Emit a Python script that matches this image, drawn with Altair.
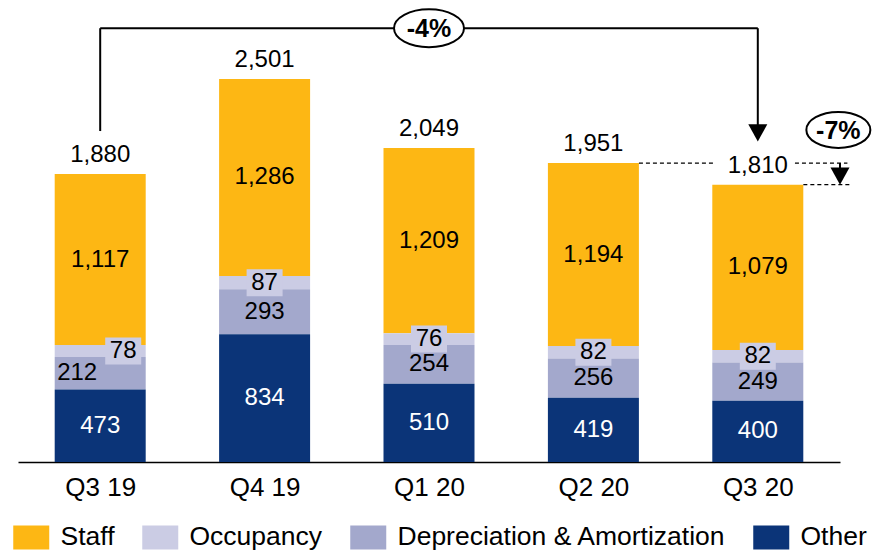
import json
import altair as alt
import pandas as pd

# ---------------- data ----------------
quarters = ["Q3 19", "Q4 19", "Q1 20", "Q2 20", "Q3 20"]
staff = [1117, 1286, 1209, 1194, 1079]
occupancy = [78, 87, 76, 82, 82]
dep_amort = [212, 293, 254, 256, 249]
other = [473, 834, 510, 419, 400]
totals = [1880, 2501, 2049, 1951, 1810]

series_names = ["Staff", "Occupancy", "Depreciation & Amortization", "Other"]
series_colors = ["#FDB714", "#CBCCE4", "#A3A8CC", "#0B3478"]
stack_rank = {"Other": 0, "Depreciation & Amortization": 1, "Occupancy": 2, "Staff": 3}

# annotation geometry in data units (x = quarter index, y = value)
bracket_x = [0, 0, 4]
bracket_x2 = [0, 4, 4]
bracket_y = [2160, 2831, 2831]
bracket_y2 = [2831, 2831, 2150]
arrow_x = [4, 4.5]
arrow_y = [2092, 1810]
dash_x = [3.277, 4.226, 4.277]
dash_x2 = [3.745, 4.545, 4.56]
dash_y = [1951, 1951, 1810]
small_shaft_x = [4.5]
small_shaft_y = [1951]
small_shaft_y2 = [1860]
badge_x = [2, 4.49]
badge_y = [2831, 2167]
badge_text = ["-4%", "-7%"]

FONT = "Liberation Sans"

rows = []
for i, q in enumerate(quarters):
    for name, vals in (("Staff", staff), ("Occupancy", occupancy),
                       ("Depreciation & Amortization", dep_amort), ("Other", other)):
        rows.append(dict(idx=i, quarter=q, series=name, value=vals[i], rank=stack_rank[name]))
df = pd.DataFrame(rows)
tot_df = pd.DataFrame(dict(idx=list(range(len(quarters))), total=totals))

x_scale = alt.Scale(domain=[-0.5, 4.5], nice=False, zero=False, padding=0)
y_scale = alt.Scale(domain=[0, 2963], nice=False, zero=True, padding=0)

x_axis = alt.Axis(
    values=list(range(len(quarters))),
    labelExpr=f"{json.dumps(quarters)}[datum.value]",
    ticks=False, grid=False, domainColor="black", domainWidth=1.5,
    labelFontSize=26, labelColor="black", labelFont=FONT,
    labelPadding=12, title=None, labelFlush=False)


def X(field):
    return alt.X(field, scale=x_scale, axis=x_axis, title=None)


def Y(field):
    return alt.Y(field, scale=y_scale, axis=None)


legend_rect_path = "M-1.5,-1L1.5,-1L1.5,1L-1.5,1Z"
box_path = "M-1,-0.75L1,-0.75L1,0.75L-1,0.75Z"
head_path = "M-1,-1.8L1,-1.8L0,0Z"


def ellipse_path(r):
    k = 0.5523
    kr = k * r
    return (f"M-1,0C-1,{-kr:.4f},{-k},{-r:.4f},0,{-r:.4f}"
            f"C{k},{-r:.4f},1,{-kr:.4f},1,0"
            f"C1,{kr:.4f},{k},{r:.4f},0,{r:.4f}"
            f"C{-k},{r:.4f},-1,{kr:.4f},-1,0Z")


base = alt.Chart(df).transform_stack(
    stack="value", groupby=["idx"], as_=["y0", "y1"],
    sort=[alt.SortField("rank", order="ascending")]
).transform_calculate(mid="(datum.y0 + datum.y1) / 2")

bars = base.mark_bar(width=91).encode(
    x=X("idx:Q"),
    y=Y("y0:Q"),
    y2="y1:Q",
    color=alt.Color("series:N", scale=alt.Scale(domain=series_names, range=series_colors),
                    legend=alt.Legend(title=None, orient="none", legendX=0, legendY=516,
                                      direction="horizontal", columns=4,
                                      symbolType=legend_rect_path, symbolSize=576,
                                      symbolStrokeWidth=0, labelFontSize=26.5, labelFont=FONT,
                                      labelColor="black", labelOffset=16, columnPadding=27,
                                      padding=0, labelLimit=500)),
)

staff_lbl = base.transform_filter("datum.series == 'Staff'").mark_text(
    fontSize=24, font=FONT, color="black", baseline="middle"
).encode(x=X("idx:Q"), y=Y("mid:Q"), text=alt.Text("value:Q", format=",d"))

other_lbl = base.transform_filter("datum.series == 'Other'").mark_text(
    fontSize=24, font=FONT, color="white", baseline="middle"
).encode(x=X("idx:Q"), y=Y("mid:Q"), text=alt.Text("value:Q", format=",d"))

da_base = base.transform_filter("datum.series == 'Depreciation & Amortization'").transform_calculate(
    lx="datum.idx == 0 ? datum.idx - 0.14 : datum.idx")
da_lbl = da_base.mark_text(fontSize=24, font=FONT, color="black", baseline="middle").encode(
    x=X("lx:Q"), y=Y("mid:Q"), text=alt.Text("value:Q", format=",d"))

occ_base = base.transform_filter("datum.series == 'Occupancy'").transform_calculate(
    lx="datum.idx == 0 ? datum.idx + 0.14 : datum.idx")
occ_box = occ_base.mark_point(shape=box_path, size=1296, filled=True, opacity=1,
                              color=series_colors[1]).encode(x=X("lx:Q"), y=Y("mid:Q"))
occ_lbl = occ_base.mark_text(fontSize=24, font=FONT, color="black", baseline="middle").encode(
    x=X("lx:Q"), y=Y("mid:Q"), text=alt.Text("value:Q", format=",d"))

tot_lbl = alt.Chart(tot_df).mark_text(
    fontSize=24, font=FONT, color="black", baseline="alphabetic", dy=-12
).encode(x=X("idx:Q"), y=Y("total:Q"), text=alt.Text("total:Q", format=",d"))

bracket = alt.Chart(pd.DataFrame(dict(x=bracket_x, x2=bracket_x2, y=bracket_y, y2=bracket_y2))).mark_rule(
    color="black", strokeWidth=2).encode(x=X("x:Q"), x2="x2:Q", y=Y("y:Q"), y2="y2:Q")

dashes = alt.Chart(pd.DataFrame(dict(x=dash_x, x2=dash_x2, y=dash_y))).mark_rule(
    color="black", strokeWidth=1.3, strokeDash=[4, 3]).encode(x=X("x:Q"), x2="x2:Q", y=Y("y:Q"))

small_shaft = alt.Chart(pd.DataFrame(dict(x=small_shaft_x, y=small_shaft_y, y2=small_shaft_y2))).mark_rule(
    color="black", strokeWidth=2).encode(x=X("x:Q"), y=Y("y:Q"), y2="y2:Q")

heads = alt.Chart(pd.DataFrame(dict(x=arrow_x, y=arrow_y))).mark_point(
    shape=head_path, size=361, filled=True, opacity=1, color="black", strokeWidth=0
).encode(x=X("x:Q"), y=Y("y:Q"))

badge_df = pd.DataFrame(dict(x=badge_x, y=badge_y, label=badge_text))
badge1 = alt.Chart(badge_df.iloc[[0]]).mark_point(
    shape=ellipse_path(0.543), size=4900, filled=True, fill="white", stroke="black",
    strokeWidth=2, opacity=1).encode(x=X("x:Q"), y=Y("y:Q"))
badge2 = alt.Chart(badge_df.iloc[[1]]).mark_point(
    shape=ellipse_path(0.5625), size=4096, filled=True, fill="white", stroke="black",
    strokeWidth=2, opacity=1).encode(x=X("x:Q"), y=Y("y:Q"))
badge_txt = alt.Chart(badge_df).mark_text(
    fontSize=25, font=FONT, fontWeight="bold", color="black", baseline="middle", dy=1
).encode(x=X("x:Q"), y=Y("y:Q"), text="label:N")

chart = alt.layer(
    bars, staff_lbl, other_lbl, da_lbl, occ_box, occ_lbl, tot_lbl,
    bracket, dashes, small_shaft, heads, badge1, badge2, badge_txt
).properties(
    width=822, height=454,
    padding={"left": 10, "top": 0, "right": 34, "bottom": 88},
    autosize=alt.AutoSizeParams(type="none"),
).configure_view(stroke=None)

chart.save("out.html", embed_options={"renderer": "svg", "actions": False})
